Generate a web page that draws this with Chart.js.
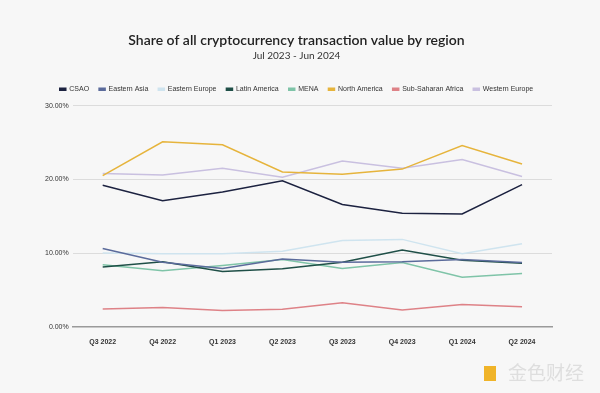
<!DOCTYPE html>
<html>
<head>
<meta charset="utf-8">
<script src="https://cdn.jsdelivr.net/npm/chart.js@4"></script>
<style>
  html, body { margin: 0; padding: 0; background: #f7f7f7; }
  #wrap { position: relative; width: 600px; height: 393px; }
  #mark { position: absolute; left: 484px; top: 360px; font-family: "Noto Sans CJK SC", sans-serif;
          font-size: 19px; line-height: 24px; color: #dedede; }
  #mark span { display: inline-block; width: 12px; height: 15px; background: #f0b429; margin-right: 12px; vertical-align: -1px; }
</style>
</head>
<body>
<div id="wrap">
  <canvas id="chart" width="600" height="393"></canvas>
  <div id="mark"><span></span>金色财经</div>
</div>
<script>
// quarters on the x axis
const quarters = ["Q3 2022", "Q4 2022", "Q1 2023", "Q2 2023", "Q3 2023", "Q4 2023", "Q1 2024", "Q2 2024"];

// share of transaction value, %
const csao = [19.2, 17.1, 18.3, 19.8, 16.6, 15.4, 15.3, 19.3];
const easternAsia = [10.6, 8.75, 7.9, 9.2, 8.75, 8.8, 9.1, 8.7];
const easternEurope = [10.0, 9.9, 9.9, 10.25, 11.7, 11.85, 9.9, 11.25];
const latinAmerica = [8.1, 8.8, 7.5, 7.85, 8.75, 10.4, 9.0, 8.6];
const mena = [8.4, 7.6, 8.3, 9.1, 7.9, 8.7, 6.7, 7.2];
const northAmerica = [20.5, 25.1, 24.7, 21.0, 20.7, 21.4, 24.6, 22.1];
const subSaharanAfrica = [2.4, 2.6, 2.2, 2.35, 3.25, 2.25, 3.0, 2.7];
const westernEurope = [20.8, 20.6, 21.5, 20.3, 22.5, 21.5, 22.7, 20.4];

const yTicks = [0, 10, 20, 30];

const series = [
    { label: "CSAO", data: csao, color: "#1c2240" },
    { label: "Eastern Asia", data: easternAsia, color: "#5b6b9b" },
    { label: "Eastern Europe", data: easternEurope, color: "#cfe4ef" },
    { label: "Latin America", data: latinAmerica, color: "#1f4f47" },
    { label: "MENA", data: mena, color: "#7fc4a8" },
    { label: "North America", data: northAmerica, color: "#e6b43c" },
    { label: "Sub-Saharan Africa", data: subSaharanAfrica, color: "#de8287" },
    { label: "Western Europe", data: westernEurope, color: "#c9c0e0" }
];

// a bit more room under the legend
const legendGap = {
    id: "legendGap",
    beforeInit(chart) {
        const fit = chart.legend.fit;
        chart.legend.fit = function () {
            fit.call(this);
            this.height += 3;
        };
    }
};

const ctx = document.getElementById("chart");

new Chart(ctx, {
    type: "line",
    data: {
        labels: quarters,
        datasets: series.map(s => ({
            label: s.label,
            data: s.data,
            borderColor: s.color,
            backgroundColor: s.color,
            borderWidth: 1.5,
            pointRadius: 0,
            tension: 0
        }))
    },
    plugins: [legendGap],
    options: {
        responsive: false,
        animation: false,
        layout: { padding: { left: 41, right: 48, top: 32, bottom: 44 } },
        plugins: {
            title: {
                display: true,
                text: "Share of all cryptocurrency transaction value by region",
                color: "#222",
                font: { family: "Lato", size: 14, weight: "600" },
                padding: { top: 0, bottom: 1 }
            },
            subtitle: {
                display: true,
                text: "Jul 2023 - Jun 2024",
                color: "#333",
                font: { family: "Lato", size: 10 },
                padding: { top: 0, bottom: 14 }
            },
            legend: {
                labels: {
                    boxWidth: 6,
                    boxHeight: 2,
                    padding: 10,
                    color: "#333",
                    font: { family: "Liberation Sans", size: 7 }
                }
            },
            tooltip: { enabled: false }
        },
        scales: {
            x: {
                offset: true,
                grid: { display: false },
                border: { color: "#9a9a9a", width: 1.5 },
                ticks: { color: "#333", font: { family: "Liberation Sans", size: 7, weight: "bold" } }
            },
            y: {
                min: 0,
                max: 30,
                afterBuildTicks: axis => { axis.ticks = yTicks.map(v => ({ value: v })); },
                grid: { color: "#dcdcdc", drawTicks: false },
                border: { display: false },
                ticks: {
                    padding: 4,
                    color: "#333",
                    font: { family: "Liberation Sans", size: 7 },
                    callback: v => v.toFixed(2) + "%"
                }
            }
        }
    }
});
</script>
</body>
</html>
